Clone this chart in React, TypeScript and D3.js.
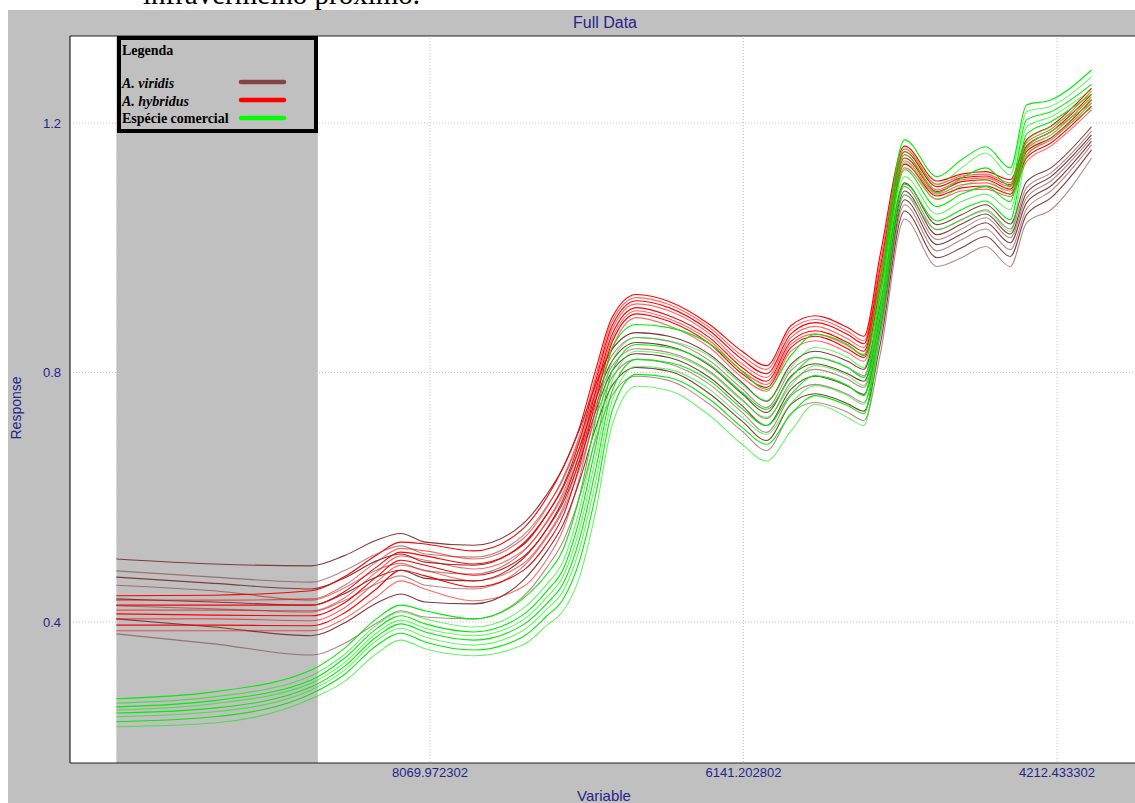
import React from "react";
import * as d3 from "d3";

const wavenumbers = [10000, 9400, 8800, 8600, 8400, 8250, 8100, 7800, 7500, 7350, 7250, 7150, 7050, 6950, 6800, 6600, 6350, 6150, 6000, 5850, 5700, 5500, 5400, 5300, 5150, 4950, 4800, 4650, 4500, 4400, 4250, 4000];

const xTickValues = [8069.972302, 6141.202802, 4212.433302];
const yTickValues = [0.4, 0.8, 1.2];
const shadedRange = [10000, 8760];

const viridis = [
  [0.501, 0.493, 0.490, 0.506, 0.531, 0.542, 0.528, 0.523, 0.557, 0.605, 0.648, 0.709, 0.781, 0.837, 0.864, 0.858, 0.829, 0.784, 0.754, 0.813, 0.834, 0.818, 0.805, 0.909, 1.104, 1.037, 1.053, 1.069, 1.038, 1.106, 1.128, 1.194],
  [0.482, 0.472, 0.464, 0.482, 0.509, 0.522, 0.509, 0.504, 0.538, 0.586, 0.629, 0.693, 0.768, 0.827, 0.856, 0.850, 0.819, 0.774, 0.744, 0.803, 0.824, 0.808, 0.795, 0.898, 1.098, 1.029, 1.045, 1.061, 1.030, 1.096, 1.120, 1.187],
  [0.472, 0.462, 0.453, 0.470, 0.498, 0.509, 0.496, 0.491, 0.525, 0.573, 0.616, 0.680, 0.757, 0.818, 0.848, 0.842, 0.811, 0.766, 0.736, 0.794, 0.814, 0.798, 0.786, 0.888, 1.091, 1.021, 1.038, 1.054, 1.022, 1.088, 1.114, 1.181],
  [0.459, 0.450, 0.435, 0.454, 0.483, 0.494, 0.482, 0.477, 0.512, 0.560, 0.603, 0.669, 0.747, 0.810, 0.838, 0.832, 0.802, 0.757, 0.726, 0.784, 0.805, 0.789, 0.776, 0.878, 1.085, 1.013, 1.030, 1.048, 1.016, 1.080, 1.107, 1.176],
  [0.437, 0.432, 0.427, 0.445, 0.472, 0.483, 0.470, 0.466, 0.501, 0.549, 0.592, 0.658, 0.738, 0.802, 0.830, 0.824, 0.792, 0.747, 0.715, 0.773, 0.794, 0.778, 0.765, 0.869, 1.077, 1.005, 1.022, 1.040, 1.008, 1.072, 1.099, 1.171],
  [0.426, 0.421, 0.416, 0.434, 0.461, 0.474, 0.459, 0.453, 0.488, 0.536, 0.579, 0.645, 0.728, 0.792, 0.821, 0.814, 0.781, 0.736, 0.704, 0.762, 0.781, 0.765, 0.752, 0.858, 1.069, 0.995, 1.013, 1.030, 0.997, 1.062, 1.091, 1.165],
  [0.405, 0.392, 0.378, 0.398, 0.430, 0.445, 0.432, 0.429, 0.466, 0.514, 0.557, 0.626, 0.712, 0.779, 0.808, 0.802, 0.766, 0.722, 0.691, 0.749, 0.766, 0.750, 0.738, 0.845, 1.059, 0.984, 1.000, 1.018, 0.986, 1.053, 1.080, 1.157],
  [0.381, 0.365, 0.347, 0.365, 0.398, 0.418, 0.408, 0.405, 0.440, 0.488, 0.530, 0.600, 0.693, 0.763, 0.794, 0.787, 0.749, 0.706, 0.675, 0.734, 0.752, 0.736, 0.723, 0.829, 1.046, 0.970, 0.984, 1.002, 0.970, 1.040, 1.061, 1.144],
];

const hybridus = [
  [0.442, 0.443, 0.450, 0.472, 0.507, 0.528, 0.525, 0.514, 0.549, 0.600, 0.648, 0.712, 0.805, 0.888, 0.925, 0.914, 0.877, 0.834, 0.811, 0.875, 0.891, 0.872, 0.858, 0.989, 1.163, 1.107, 1.118, 1.122, 1.109, 1.173, 1.195, 1.256],
  [0.435, 0.435, 0.437, 0.458, 0.496, 0.518, 0.514, 0.501, 0.533, 0.584, 0.632, 0.699, 0.795, 0.882, 0.920, 0.909, 0.872, 0.827, 0.805, 0.869, 0.885, 0.866, 0.851, 0.978, 1.158, 1.102, 1.115, 1.118, 1.104, 1.168, 1.190, 1.251],
  [0.427, 0.427, 0.427, 0.448, 0.488, 0.512, 0.506, 0.493, 0.523, 0.573, 0.619, 0.690, 0.787, 0.875, 0.915, 0.904, 0.867, 0.821, 0.798, 0.862, 0.880, 0.861, 0.846, 0.968, 1.154, 1.098, 1.112, 1.115, 1.101, 1.163, 1.186, 1.246],
  [0.419, 0.419, 0.418, 0.438, 0.480, 0.506, 0.499, 0.485, 0.514, 0.562, 0.608, 0.680, 0.779, 0.869, 0.910, 0.899, 0.862, 0.814, 0.792, 0.856, 0.874, 0.854, 0.840, 0.960, 1.149, 1.093, 1.109, 1.112, 1.098, 1.158, 1.181, 1.242],
  [0.413, 0.411, 0.410, 0.430, 0.472, 0.499, 0.491, 0.475, 0.504, 0.550, 0.597, 0.670, 0.771, 0.861, 0.904, 0.891, 0.856, 0.808, 0.786, 0.850, 0.867, 0.848, 0.834, 0.952, 1.144, 1.090, 1.106, 1.109, 1.094, 1.154, 1.176, 1.237],
  [0.405, 0.405, 0.402, 0.422, 0.464, 0.491, 0.483, 0.466, 0.493, 0.539, 0.584, 0.661, 0.763, 0.854, 0.899, 0.886, 0.851, 0.803, 0.781, 0.845, 0.862, 0.843, 0.829, 0.944, 1.139, 1.086, 1.101, 1.104, 1.091, 1.149, 1.173, 1.232],
  [0.395, 0.395, 0.394, 0.414, 0.453, 0.483, 0.474, 0.456, 0.482, 0.526, 0.571, 0.651, 0.755, 0.848, 0.894, 0.882, 0.846, 0.798, 0.776, 0.840, 0.858, 0.838, 0.824, 0.936, 1.134, 1.083, 1.096, 1.099, 1.086, 1.144, 1.168, 1.227],
  [0.386, 0.386, 0.386, 0.405, 0.440, 0.466, 0.453, 0.434, 0.456, 0.501, 0.549, 0.632, 0.741, 0.837, 0.888, 0.875, 0.840, 0.792, 0.770, 0.834, 0.851, 0.832, 0.818, 0.925, 1.128, 1.078, 1.091, 1.094, 1.082, 1.138, 1.163, 1.221],
];

const comercial = [
  [0.277, 0.288, 0.323, 0.357, 0.405, 0.427, 0.418, 0.405, 0.437, 0.477, 0.517, 0.602, 0.725, 0.840, 0.877, 0.872, 0.846, 0.802, 0.773, 0.827, 0.861, 0.845, 0.827, 0.949, 1.173, 1.114, 1.141, 1.162, 1.128, 1.229, 1.237, 1.285],
  [0.270, 0.280, 0.314, 0.347, 0.395, 0.416, 0.405, 0.392, 0.421, 0.461, 0.498, 0.581, 0.701, 0.818, 0.856, 0.851, 0.826, 0.781, 0.755, 0.808, 0.840, 0.824, 0.808, 0.936, 1.160, 1.101, 1.128, 1.152, 1.117, 1.218, 1.227, 1.274],
  [0.264, 0.274, 0.307, 0.341, 0.389, 0.410, 0.397, 0.384, 0.411, 0.450, 0.485, 0.565, 0.682, 0.802, 0.845, 0.840, 0.813, 0.768, 0.741, 0.792, 0.824, 0.808, 0.792, 0.923, 1.149, 1.088, 1.112, 1.128, 1.099, 1.205, 1.218, 1.262],
  [0.259, 0.269, 0.302, 0.334, 0.382, 0.403, 0.390, 0.378, 0.403, 0.440, 0.474, 0.549, 0.664, 0.786, 0.834, 0.829, 0.800, 0.755, 0.728, 0.779, 0.811, 0.795, 0.779, 0.914, 1.136, 1.077, 1.099, 1.109, 1.086, 1.194, 1.210, 1.254],
  [0.254, 0.262, 0.296, 0.328, 0.376, 0.397, 0.384, 0.371, 0.395, 0.430, 0.462, 0.533, 0.645, 0.770, 0.821, 0.816, 0.787, 0.742, 0.715, 0.765, 0.795, 0.779, 0.763, 0.902, 1.125, 1.066, 1.086, 1.098, 1.074, 1.182, 1.202, 1.246],
  [0.248, 0.256, 0.291, 0.322, 0.370, 0.390, 0.376, 0.363, 0.386, 0.421, 0.450, 0.517, 0.626, 0.754, 0.810, 0.805, 0.773, 0.728, 0.701, 0.750, 0.779, 0.763, 0.749, 0.891, 1.114, 1.054, 1.074, 1.086, 1.061, 1.171, 1.194, 1.238],
  [0.240, 0.248, 0.285, 0.315, 0.362, 0.382, 0.368, 0.355, 0.376, 0.410, 0.437, 0.498, 0.605, 0.738, 0.797, 0.792, 0.757, 0.712, 0.685, 0.733, 0.763, 0.747, 0.734, 0.880, 1.102, 1.043, 1.061, 1.075, 1.045, 1.160, 1.186, 1.232],
  [0.232, 0.238, 0.277, 0.304, 0.349, 0.371, 0.357, 0.346, 0.363, 0.395, 0.418, 0.472, 0.578, 0.715, 0.778, 0.771, 0.731, 0.685, 0.658, 0.706, 0.749, 0.728, 0.715, 0.864, 1.085, 1.029, 1.045, 1.059, 1.026, 1.146, 1.176, 1.224],
];

const groupNames = ["A. viridis", "A. hybridus", "Espécie comercial"];
const groupColors = ["#7e3c3c", "#ff0000", "#00ee00"];
const legendColors = ["#844444", "#ff0000", "#00ff00"];
const groups = [viridis, hybridus, comercial];

export default function App() {
  const W = 1135;
  const H = 803;
  const plot = { left: 70, top: 36, right: 1140, bottom: 763 };

  const x = d3.scaleLinear().domain([xTickValues[0], xTickValues[2]]).range([430, 1057]);
  const y = d3.scaleLinear().domain([0.4, 1.2]).range([622, 123]);

  const line = d3
    .line<number>()
    .x((_, i) => x(wavenumbers[i]))
    .y((d) => y(d))
    .curve(d3.curveMonotoneX);

  const axisColor = "#24248a";
  const sans = "'Liberation Sans', Arial, sans-serif";
  const serif = "'Liberation Serif', 'Times New Roman', serif";
  const fmtX = d3.format(".6f");
  const fmtY = d3.format(".1f");

  const legendX = 117;
  const legendY = 36;

  return (
    <div style={{ position: "absolute", left: 0, top: 0, width: W, height: H, overflow: "hidden", background: "#fff" }}>
      <svg width={W} height={H} viewBox={`0 0 ${W} ${H}`} style={{ display: "block" }}>
        <rect x={0} y={0} width={W} height={H} fill="#ffffff" />
        <text x={143} y={3.5} fontFamily={serif} fontSize={29} fill="#000">
          infravermelho próximo.
        </text>
        <rect x={8} y={10} width={W - 8} height={H - 10} fill="#c0c0c0" />

        <text x={605} y={28} textAnchor="middle" fontFamily={sans} fontSize={16} fill={axisColor}>
          Full Data
        </text>

        <rect x={plot.left} y={plot.top} width={plot.right - plot.left} height={plot.bottom - plot.top} fill="#ffffff" />

        <defs>
          <clipPath id="plotClip">
            <rect x={plot.left + 1} y={plot.top + 1} width={plot.right - plot.left} height={plot.bottom - plot.top - 2} />
          </clipPath>
        </defs>

        {/* grid */}
        {xTickValues.map((t) => (
          <line key={"gx" + t} x1={x(t)} x2={x(t)} y1={plot.top + 2} y2={plot.bottom} stroke="#c4c4c4" strokeDasharray="1 2" />
        ))}
        {yTickValues.map((t) => (
          <line key={"gy" + t} x1={plot.left + 3} x2={W} y1={y(t)} y2={y(t)} stroke="#c4c4c4" strokeDasharray="1 2" />
        ))}

        {/* shaded band */}
        <rect
          x={x(shadedRange[0])}
          y={plot.top + 1}
          width={x(shadedRange[1]) - x(shadedRange[0])}
          height={plot.bottom - plot.top - 1}
          fill="#c0c0c0"
        />
        <line x1={x(shadedRange[0])} x2={x(shadedRange[0])} y1={plot.top + 1} y2={plot.bottom} stroke="#e8e8e8" strokeDasharray="1 2" />

        {/* spectra */}
        <g clipPath="url(#plotClip)">
          {groups.map((g, gi) =>
            g.map((s, si) => (
              <path
                key={gi + "-" + si}
                d={line(s) || ""}
                fill="none"
                stroke={groupColors[gi]}
                strokeWidth={1.1}
                strokeOpacity={si % 2 === 0 ? 1 : 0.6}
              />
            ))
          )}
        </g>

        {/* frame */}
        <line x1={plot.left} x2={W} y1={plot.top} y2={plot.top} stroke="#222" />
        <line x1={plot.left} x2={plot.left} y1={plot.top} y2={plot.bottom} stroke="#000" />
        <line x1={plot.left} x2={W} y1={plot.bottom} y2={plot.bottom} stroke="#222" />

        {/* y ticks */}
        {yTickValues.map((t) => (
          <text key={"ty" + t} x={61} y={y(t)} dy="0.36em" textAnchor="end" fontFamily={sans} fontSize={13} fill={axisColor}>
            {fmtY(t)}
          </text>
        ))}
        {/* x ticks */}
        {xTickValues.map((t) => (
          <text key={"tx" + t} x={x(t)} y={777} textAnchor="middle" fontFamily={sans} fontSize={13} fill={axisColor}>
            {fmtX(t)}
          </text>
        ))}

        <text x={604} y={801} textAnchor="middle" fontFamily={sans} fontSize={15} fill={axisColor}>
          Variable
        </text>
        <text transform="translate(21,408) rotate(-90)" textAnchor="middle" fontFamily={sans} fontSize={14} fill={axisColor}>
          Response
        </text>

        {/* legend */}
        <rect x={legendX + 2} y={legendY + 2} width={197} height={93} fill="#c0c0c0" stroke="#000" strokeWidth={4} />
        <text x={legendX + 5} y={legendY + 19} fontFamily={serif} fontWeight="bold" fontSize={14} fill="#000">
          Legenda
        </text>
        {groupNames.map((n, i) => (
          <g key={n}>
            <text
              x={legendX + 5}
              y={legendY + 52 + i * 17.5}
              fontFamily={serif}
              fontWeight="bold"
              fontStyle={i < 2 ? "italic" : "normal"}
              fontSize={14}
              fill="#000"
            >
              {n}
            </text>
            <line
              x1={legendX + 124}
              x2={legendX + 167}
              y1={legendY + 46 + i * 18}
              y2={legendY + 46 + i * 18}
              stroke={legendColors[i]}
              strokeWidth={4.5}
              strokeLinecap="round"
            />
          </g>
        ))}
      </svg>
    </div>
  );
}
